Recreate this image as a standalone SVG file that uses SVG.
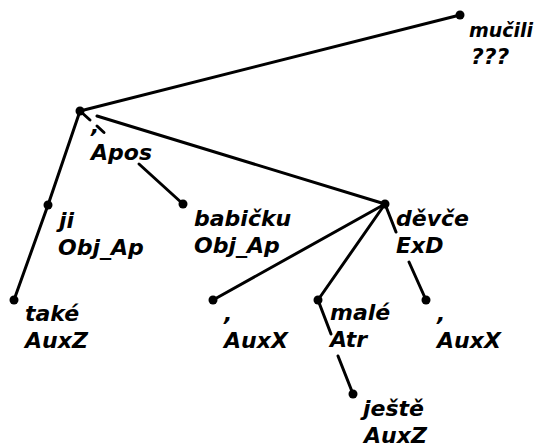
<svg xmlns="http://www.w3.org/2000/svg" width="540" height="447" viewBox="0 0 540 447">
<style>
.e{stroke:#000;stroke-width:3;fill:none;stroke-linecap:round}
.n{fill:#000}
text{font-family:"DejaVu Sans",Verdana,sans-serif;font-size:22px;font-weight:bold;font-style:italic;fill:#000}
.s{font-size:19px}
</style>
<rect width="540" height="447" fill="#fff"/>
<g id="connectors">
<line class="e" x1="460" y1="15" x2="80" y2="111"/>
<line class="e" x1="80" y1="111" x2="48" y2="205"/>
<line class="e" x1="48" y1="205" x2="14" y2="300"/>
<path class="e" d="M80,111 L90,120 M97,126 L104,132.5 M139,164 L183,204"/>
<line class="e" x1="97" y1="116" x2="385" y2="204"/>
<line class="e" x1="385" y1="204" x2="213" y2="300"/>
<line class="e" x1="385" y1="204" x2="318" y2="300"/>
<path class="e" d="M385,204 L396,232 M409,262 L426,300"/>
<path class="e" d="M318,300 L331,334 M338,356 L353,394"/>
</g>
<g id="mucili"><circle class="n" cx="460" cy="15" r="4.5"/><text class="s" x="469" y="37">mučili</text><text x="471" y="64">???</text></g>
<g id="apos"><circle class="n" cx="80" cy="111" r="4.5"/><text x="91" y="133">,</text><text x="91" y="160">Apos</text></g>
<g id="ji"><circle class="n" cx="48" cy="205" r="4.5"/><text x="59" y="228">ji</text><text x="58" y="255">Obj_Ap</text></g>
<g id="babicku"><circle class="n" cx="183" cy="204" r="4.5"/><text x="194" y="226">babičku</text><text x="194" y="253">Obj_Ap</text></g>
<g id="devce"><circle class="n" cx="385" cy="204" r="4.5"/><text x="396" y="226">děvče</text><text x="396" y="253">ExD</text></g>
<g id="take"><circle class="n" cx="14" cy="300" r="4.5"/><text x="25" y="321">také</text><text x="25" y="348">AuxZ</text></g>
<g id="auxx1"><circle class="n" cx="213" cy="300" r="4.5"/><text x="224" y="321">,</text><text x="224" y="348">AuxX</text></g>
<g id="male"><circle class="n" cx="318" cy="300" r="4.5"/><text x="330" y="320">malé</text><text x="330" y="347">Atr</text></g>
<g id="auxx2"><circle class="n" cx="426" cy="300" r="4.5"/><text x="437" y="321">,</text><text x="437" y="348">AuxX</text></g>
<g id="jeste"><circle class="n" cx="353" cy="394" r="4.5"/><text x="363" y="416">ještě</text><text x="364" y="443">AuxZ</text></g>
</svg>
